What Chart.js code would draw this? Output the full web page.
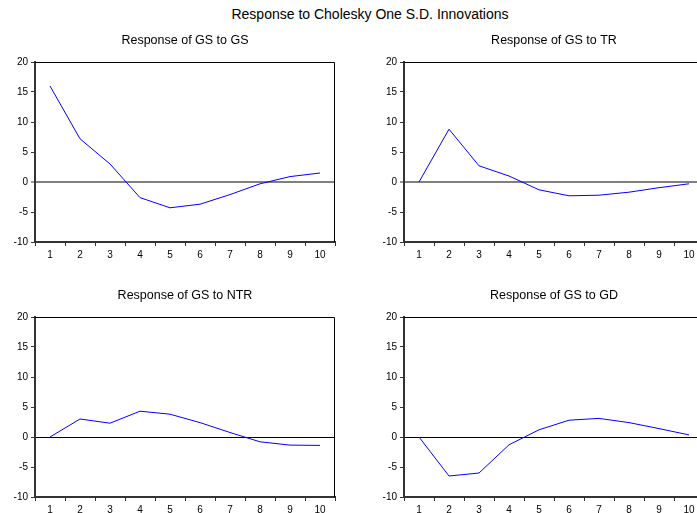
<!DOCTYPE html>
<html>
<head>
<meta charset="utf-8">
<script src="https://cdn.jsdelivr.net/npm/chart.js@4.4.1/dist/chart.umd.min.js"></script>
<style>
  html, body { margin: 0; padding: 0; background: #fff; width: 697px; height: 513px; overflow: hidden; }
  #wrap { position: relative; width: 697px; height: 513px; overflow: hidden; }
  #mainTitle { position: absolute; left: 170px; width: 400px; top: 6px; text-align: center;
    font: 14px "Liberation Sans", Arial, sans-serif; color: #000; }
  .panel { position: absolute; width: 345px; height: 232px; }
</style>
</head>
<body>
<div id="wrap">
  <div id="mainTitle">Response to Cholesky One S.D. Innovations</div>
  <div class="panel" style="left:0px; top:30px;"><canvas id="c1"></canvas></div>
  <div class="panel" style="left:369px; top:30px;"><canvas id="c2"></canvas></div>
  <div class="panel" style="left:0px; top:285px;"><canvas id="c3"></canvas></div>
  <div class="panel" style="left:369px; top:285px;"><canvas id="c4"></canvas></div>
</div>
<script>
// periods after the shock
var periods = ['1', '2', '3', '4', '5', '6', '7', '8', '9', '10'];

// responses
var gsToGs  = [16.0, 7.2, 3.0, -2.6, -4.3, -3.7, -2.1, -0.3, 0.9, 1.5];
var gsToTr  = [0, 8.8, 2.7, 1.0, -1.3, -2.3, -2.2, -1.7, -0.95, -0.3];
var gsToNtr = [0, 3.0, 2.3, 4.3, 3.8, 2.4, 0.75, -0.8, -1.35, -1.4];
var gsToGd  = [0, -6.5, -6.0, -1.3, 1.2, 2.8, 3.1, 2.4, 1.4, 0.35];

var panelTitles = ['Response of GS to GS', 'Response of GS to TR', 'Response of GS to NTR', 'Response of GS to GD'];

var fontFam = '"Liberation Sans", Arial, sans-serif';

// top + right frame and the panel subtitle
var framePlugin = {
  id: 'frame',
  afterDraw: function (chart, args, opts) {
    var a = chart.chartArea;
    var ctx = chart.ctx;
    ctx.save();
    ctx.strokeStyle = '#000';
    ctx.lineWidth = 1;
    ctx.beginPath();
    ctx.moveTo(a.left, a.top + 0.5);
    ctx.lineTo(a.right - 0.5, a.top + 0.5);
    ctx.lineTo(a.right - 0.5, a.bottom);
    ctx.stroke();
    ctx.fillStyle = '#000';
    ctx.font = '12.5px ' + fontFam;
    ctx.textAlign = 'center';
    ctx.textBaseline = 'middle';
    ctx.fillText(opts.text, (a.left + a.right) / 2, a.top - 21.5);
    ctx.restore();
  }
};

function makePanel(id, title, values, zeroColor, zeroWidth) {
  return new Chart(document.getElementById(id), {
    type: 'line',
    data: {
      labels: periods,
      datasets: [{
        data: values,
        borderColor: '#0000ff',
        borderWidth: 1,
        pointRadius: 0,
        tension: 0,
        fill: false
      }]
    },
    options: {
      responsive: true,
      maintainAspectRatio: false,
      animation: false,
      layout: { padding: { top: 32, right: 10, left: 0, bottom: 0 } },
      plugins: {
        legend: { display: false },
        tooltip: { enabled: false },
        frame: { text: title }
      },
      scales: {
        x: {
          offset: true,
          grid: { offset: true, color: 'rgba(0,0,0,0)', tickColor: '#333', tickLength: 4, tickWidth: 1 },
          border: { color: '#333', width: 2 },
          ticks: { color: '#000', font: { family: fontFam, size: 10 }, padding: 3, maxRotation: 0 },
          afterFit: function (s) { s.height = 20; }
        },
        y: {
          min: -10,
          max: 20,
          grid: {
            color: function (c) { return c.tick && c.tick.value === 0 ? zeroColor : 'rgba(0,0,0,0)'; },
            lineWidth: function (c) { return c.tick && c.tick.value === 0 ? zeroWidth : 1; },
            tickColor: '#333',
            tickLength: 4,
            tickWidth: 1
          },
          border: { color: '#333', width: 2 },
          ticks: { stepSize: 5, color: '#000', font: { family: fontFam, size: 10 }, padding: 3 },
          afterFit: function (s) { s.width = 35; }
        }
      }
    },
    plugins: [framePlugin]
  });
}

makePanel('c1', panelTitles[0], gsToGs, '#808080', 2);
makePanel('c2', panelTitles[1], gsToTr, '#808080', 2);
makePanel('c3', panelTitles[2], gsToNtr, '#000000', 1);
makePanel('c4', panelTitles[3], gsToGd, '#000000', 1);
</script>
</body>
</html>
